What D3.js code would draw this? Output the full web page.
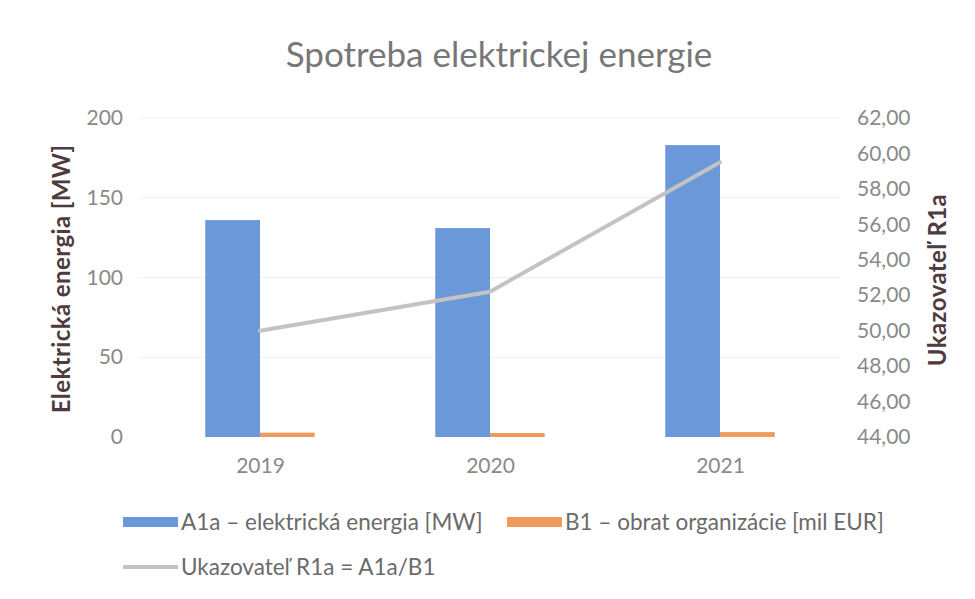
<!DOCTYPE html>
<html>
<head>
<meta charset="utf-8">
<script src="https://cdn.jsdelivr.net/npm/d3@7"></script>
<style>
  body { margin: 0; background: #fff; }
  svg text { font-family: Lato, "Open Sans", sans-serif; }
</style>
</head>
<body>
<div id="chart"></div>
<script>
// chart data
let years = ["2019", "2020", "2021"];
let energy = [136, 131, 183];        // A1a - elektrická energia [MW]
let turnover = [2.72, 2.51, 3.08];   // B1 - obrat organizácie [mil EUR]
let ratio = [50.0, 52.2, 59.5];      // Ukazovateľ R1a = A1a/B1
let leftTicks = [0, 50, 100, 150, 200];
let rightTicks = [44, 46, 48, 50, 52, 54, 56, 58, 60, 62];

(function() {
  let width = 975;
  let height = 599;
  let blue = "#6b98d8";
  let orange = "#f29a5e";
  let grey = "#c3c3c3";
  let textGrey = "#8a8a8a";
  let titleColor = "#4e3b40";

  let svg = d3.select("#chart").append("svg")
    .attr("width", width)
    .attr("height", height);

  let xScale = d3.scalePoint()
    .domain(years)
    .range([145, 835])
    .padding(0.5);

  let yLeft = d3.scaleLinear()
    .domain([0, 200])
    .range([437, 118]);

  let yRight = d3.scaleLinear()
    .domain([44, 62])
    .range([437, 118]);

  let barW = xScale.step() * 0.238;

  // faint gridlines
  svg.append("g")
    .selectAll("line")
    .data(leftTicks.slice(1))
    .join("line")
    .attr("x1", 140)
    .attr("x2", 840)
    .attr("y1", d => yLeft(d))
    .attr("y2", d => yLeft(d))
    .attr("stroke", "#efefef")
    .attr("stroke-width", 1);

  // blue bars
  svg.append("g")
    .selectAll("rect")
    .data(years)
    .join("rect")
    .attr("x", d => xScale(d) - barW)
    .attr("y", (d, i) => yLeft(energy[i]))
    .attr("width", barW)
    .attr("height", (d, i) => yLeft(0) - yLeft(energy[i]))
    .attr("fill", blue);

  // orange bars (tiny, same left scale)
  svg.append("g")
    .selectAll("rect")
    .data(years)
    .join("rect")
    .attr("x", d => xScale(d))
    .attr("y", (d, i) => yLeft(turnover[i]))
    .attr("width", barW)
    .attr("height", (d, i) => yLeft(0) - yLeft(turnover[i]))
    .attr("fill", orange);

  // ratio line on right scale
  let line = d3.line()
    .x((d, i) => xScale(years[i]))
    .y(d => yRight(d));

  svg.append("path")
    .datum(ratio)
    .attr("d", line)
    .attr("fill", "none")
    .attr("stroke", grey)
    .attr("stroke-width", 4)
    .attr("stroke-linejoin", "round")
    .attr("stroke-linecap", "round");

  // left axis
  let leftAxis = svg.append("g")
    .attr("transform", "translate(123,0)")
    .call(d3.axisLeft(yLeft).tickValues(leftTicks).tickSize(0).tickPadding(0));
  leftAxis.select(".domain").remove();
  leftAxis.selectAll("text")
    .attr("fill", textGrey)
    .style("font-size", "21px");

  // right axis
  let rightAxis = svg.append("g")
    .attr("transform", "translate(857,0)")
    .call(d3.axisRight(yRight).tickValues(rightTicks).tickSize(0).tickPadding(0)
      .tickFormat(d => d3.format(".2f")(d).replace(".", ",")));
  rightAxis.select(".domain").remove();
  rightAxis.selectAll("text")
    .attr("fill", textGrey)
    .style("font-size", "21px");

  // x axis labels
  let xAxis = svg.append("g")
    .attr("transform", "translate(0,458)")
    .call(d3.axisBottom(xScale).tickSize(0).tickPadding(0));
  xAxis.select(".domain").remove();
  xAxis.selectAll("text")
    .attr("fill", textGrey)
    .style("font-size", "21px");

  // title
  svg.append("text")
    .attr("x", 499)
    .attr("y", 67)
    .attr("text-anchor", "middle")
    .attr("fill", "#777777")
    .style("font-size", "35px")
    .text("Spotreba elektrickej energie");

  // axis titles
  svg.append("text")
    .attr("transform", "translate(70,279) rotate(-90)")
    .attr("text-anchor", "middle")
    .attr("fill", titleColor)
    .style("font-size", "24px")
    .style("letter-spacing", "0.4px")
    .style("font-weight", "bold")
    .text("Elektrická energia [MW]");

  svg.append("text")
    .attr("transform", "translate(946,280) rotate(-90)")
    .attr("text-anchor", "middle")
    .attr("fill", titleColor)
    .style("font-size", "24px")
    .style("letter-spacing", "0.4px")
    .style("font-weight", "bold")
    .text("Ukazovateľ R1a");

  // legend
  let legend = [
    {label: "A1a – elektrická energia [MW]", color: blue, type: "rect", x: 123, y: 522},
    {label: "B1 – obrat organizácie [mil EUR]", color: orange, type: "rect", x: 507, y: 522},
    {label: "Ukazovateľ R1a = A1a/B1", color: grey, type: "line", x: 123, y: 567}
  ];

  let items = svg.append("g")
    .selectAll("g")
    .data(legend)
    .join("g")
    .attr("transform", d => "translate(" + d.x + "," + d.y + ")");

  items.filter(d => d.type == "rect")
    .append("rect")
    .attr("x", 0)
    .attr("y", -5)
    .attr("width", 55)
    .attr("height", 10)
    .attr("fill", d => d.color);

  items.filter(d => d.type == "line")
    .append("line")
    .attr("x1", 0)
    .attr("x2", 55)
    .attr("stroke", d => d.color)
    .attr("stroke-width", 4);

  items.append("text")
    .attr("x", 58)
    .attr("dy", "0.35em")
    .attr("fill", "#6a6a6a")
    .style("font-size", "22.5px")
    .text(d => d.label);
})();
</script>
</body>
</html>
